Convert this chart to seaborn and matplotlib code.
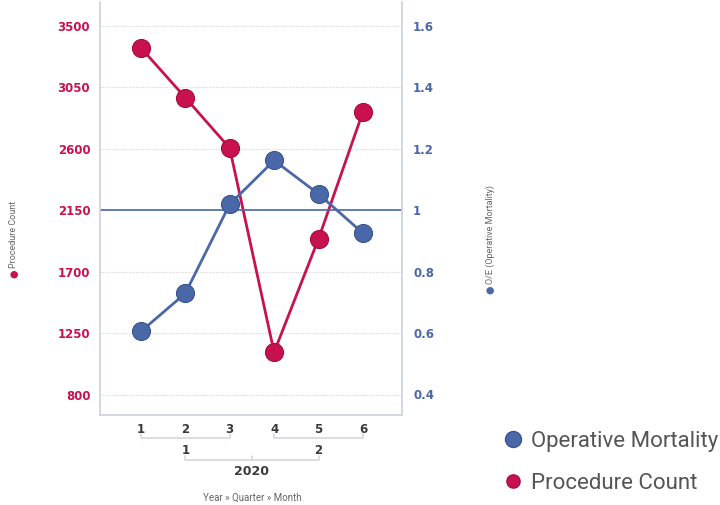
import matplotlib
matplotlib.use("Agg")
import matplotlib.pyplot as plt
import matplotlib.transforms as mtransforms
from matplotlib.lines import Line2D
import seaborn as sns
import pandas as pd

# data
months = [1, 2, 3, 4, 5, 6]
quarters = [1, 1, 1, 2, 2, 2]
year = 2020
procedure_count = [3340, 2975, 2605, 1110, 1940, 2870]
oe_mortality = [0.605, 0.729, 1.019, 1.162, 1.053, 0.925]
reference_oe = 1.0

left_ticks = [800, 1250, 1700, 2150, 2600, 3050, 3500]
right_ticks = [0.4, 0.6, 0.8, 1.0, 1.2, 1.4, 1.6]
right_labels = ["0.4", "0.6", "0.8", "1", "1.2", "1.4", "1.6"]

red = "#C8114F"
blue = "#4A67A8"
spine_col = "#D3D6E6"
dark = "#3A3A3A"
tick_font = "DejaVu Sans"
tick_size = 8.5

df = pd.DataFrame({"month": months, "quarter": quarters,
                   "count": procedure_count, "oe": oe_mortality})

sns.set_style("white")
plt.rcParams["font.family"] = ["DejaVu Sans"]

fig = plt.figure(figsize=(7.2, 5.05), dpi=100)
ax = fig.add_axes([100 / 720, 1 - 415 / 505, 302 / 720, 413 / 505])
ax2 = ax.twinx()

sns.lineplot(data=df, x="month", y="count", ax=ax, color=red, linewidth=2,
             marker="o", markersize=13, markeredgecolor="#A80C40",
             markeredgewidth=0.8, legend=False)
sns.lineplot(data=df, x="month", y="oe", ax=ax2, color=blue, linewidth=2,
             marker="o", markersize=13, markeredgecolor="#3A5590",
             markeredgewidth=0.8, legend=False)
ax2.axhline(reference_oe, color=blue, linewidth=1.2, zorder=1)

ax.set_xlim(0.08, 6.88)
ax.set_ylim(650, 3675)
ax2.set_ylim(0.333, 1.678)

ax.set_yticks(left_ticks)
ax.set_yticklabels([str(t) for t in left_ticks], color=red,
                   fontweight="bold", fontsize=tick_size, family=tick_font)
ax2.set_yticks(right_ticks)
ax2.set_yticklabels(right_labels, color=blue, fontweight="bold",
                    fontsize=tick_size, family=tick_font)
ax.tick_params(axis="y", length=0, pad=7)
ax2.tick_params(axis="y", length=0, pad=8)

ax.grid(axis="y", color="#D8D8D8", linestyle=(0, (1, 1)), linewidth=0.8)
ax.grid(axis="x", visible=False)
ax2.grid(False)

for a in (ax, ax2):
    a.spines["top"].set_visible(False)
    for s in ("left", "right", "bottom"):
        a.spines[s].set_color(spine_col)
        a.spines[s].set_linewidth(1.2)

ax.set_xticks(months)
ax.set_xticklabels([str(m) for m in months], fontweight="bold",
                   fontsize=tick_size, color=dark, family=tick_font)
ax.tick_params(axis="x", length=4, color=spine_col, pad=2)
ax.set_xlabel("")
ax.set_ylabel("")
ax2.set_ylabel("")

# hierarchical x axis: quarter and year brackets
trans = mtransforms.blended_transform_factory(ax.transData, ax.transAxes)
y_q_br = -0.055
y_q_lab = -0.087
y_y_br = -0.108
y_y_lab = -0.138
br_tick = 0.008
q_centers = []
for q in sorted(set(quarters)):
    ms = [m for m, qq in zip(months, quarters) if qq == q]
    x0, x1 = ms[0], ms[-1]
    ax.plot([x0, x0, x1, x1], [y_q_br + br_tick, y_q_br, y_q_br, y_q_br + br_tick],
            transform=trans, clip_on=False, color=spine_col, linewidth=1.2)
    xc = ms[len(ms) // 2]
    q_centers.append(xc)
    ax.text(xc, y_q_lab, str(q), transform=trans, ha="center", va="center",
            fontsize=tick_size, fontweight="bold", color=dark, family=tick_font)
x0, x1 = q_centers[0], q_centers[-1]
ax.plot([x0, x0, x1, x1], [y_y_br + br_tick, y_y_br, y_y_br, y_y_br + br_tick],
        transform=trans, clip_on=False, color=spine_col, linewidth=1.2)
xm = (x0 + x1) / 2
ax.plot([xm, xm], [y_y_br, y_y_br + br_tick], transform=trans, clip_on=False,
        color=spine_col, linewidth=1.2)
ax.text(xm, y_y_lab, str(year), transform=trans, ha="center", va="center",
        fontsize=9, fontweight="bold", color=dark, family=tick_font)
ax.text(xm, -0.2, "Year \u00bb Quarter \u00bb Month", transform=trans,
        ha="center", va="center", fontsize=7, color="#666666", family="Roboto")

# axis titles with coloured dot
fig.text(14 / 720, 1 - 274 / 505, "\u25cf", rotation=90, ha="center",
         va="center", fontsize=7, color=red)
fig.text(14 / 720, 1 - 268 / 505, "Procedure Count", rotation=90,
         ha="center", va="bottom", fontsize=6.5, color="#666666",
         family="Roboto")
fig.text(490 / 720, 1 - 290 / 505, "\u25cf", rotation=90, ha="center",
         va="center", fontsize=7, color=blue)
fig.text(490 / 720, 1 - 284 / 505, "O/E (Operative Mortality)",
         rotation=90, ha="center", va="bottom", fontsize=6.5, color="#666666",
         family="Roboto")

handles = [
    Line2D([], [], linestyle="none", marker="o", markersize=11.5,
           color=blue, markeredgecolor="#3A5590"),
    Line2D([], [], linestyle="none", marker="o", markersize=9.5,
           color=red, markeredgecolor="#A80C40"),
]
leg = fig.legend(handles, ["Operative Mortality", "Procedure Count"],
                 loc="upper left", bbox_to_anchor=(482 / 720, 1 - 411 / 505),
                 frameon=False, handletextpad=0.3,
                 labelspacing=0.95, handlelength=1.0,
                 prop={"family": "Roboto", "size": 16})
for t in leg.get_texts():
    t.set_color("#555555")

fig.savefig("out.png", dpi=100)
